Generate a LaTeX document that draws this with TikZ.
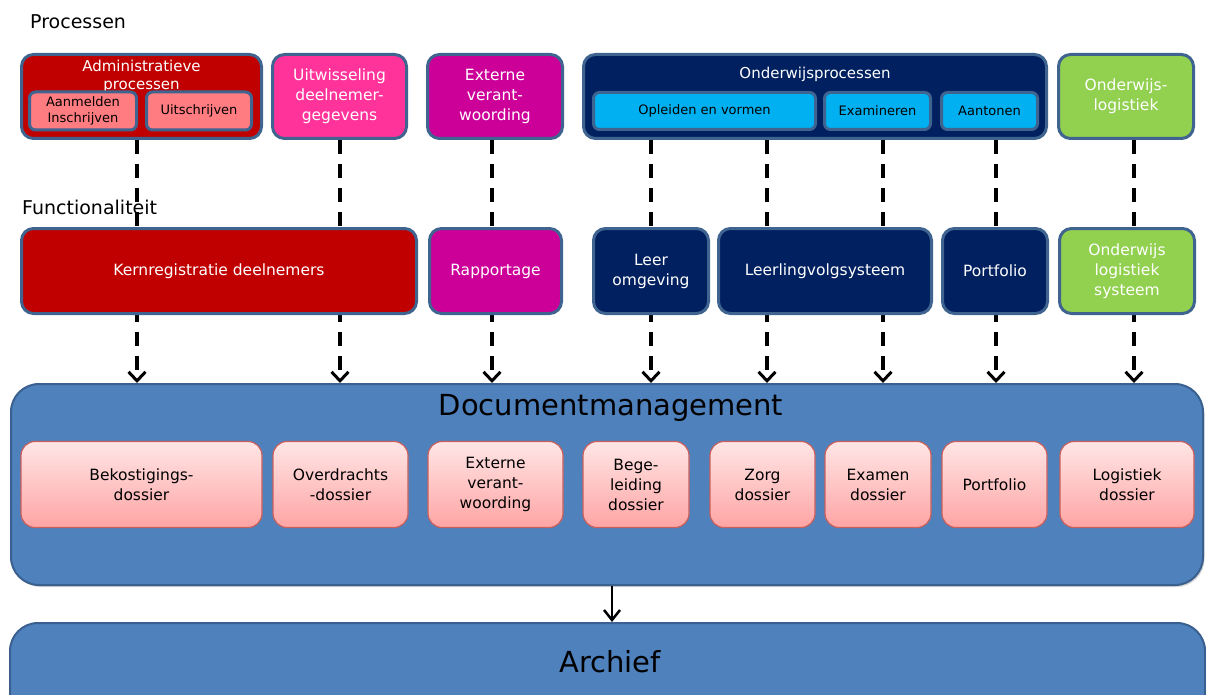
\documentclass[tikz,border=0pt]{standalone}
\usepackage{fontspec}
\setmainfont{DejaVu Sans}
\usetikzlibrary{arrows.meta,shadows}
\pgfdeclarelayer{bg}
\pgfsetlayers{bg,main}

\definecolor{frame}{HTML}{3F6490}
\definecolor{darkred}{HTML}{C00000}
\definecolor{salmon}{HTML}{FF7C80}
\definecolor{hotpink}{HTML}{FF3399}
\definecolor{magenta}{HTML}{CC0099}
\definecolor{navy}{HTML}{002060}
\definecolor{skyblue}{HTML}{00B0F0}
\definecolor{lgreen}{HTML}{92D050}
\definecolor{docblue}{HTML}{4F81BD}
\definecolor{docframe}{HTML}{3A6090}
\definecolor{pinktop}{HTML}{FFE6E6}
\definecolor{pinkbot}{HTML}{FFA4A4}
\definecolor{pinkframe}{HTML}{C9605C}

\begin{document}
\begin{tikzpicture}[x=1pt,y=-1pt,
  box/.style={draw=frame, line width=3pt, rounded corners=12pt, inner sep=0pt,
    align=center, text=white, font=\fontsize{15.5}{20}\selectfont},
  toprow/.style={box, minimum height=84pt},
  midrow/.style={box, minimum height=85pt},
  innerbox/.style={draw=frame, line width=3pt, rounded corners=6pt, inner sep=0pt,
    align=center, text=black, minimum height=38pt, font=\fontsize{13}{16}\selectfont},
  boxtitle/.style={align=center, text=white, inner sep=0pt, font=\fontsize{15}{18}\selectfont},
  heading/.style={anchor=west, inner sep=0pt, text=black, font=\fontsize{19}{23}\selectfont},
  dossier/.style={draw=pinkframe, line width=1.2pt, rounded corners=14pt, inner sep=0pt,
    top color=pinktop, bottom color=pinkbot, align=center, text=black,
    minimum height=86pt, font=\fontsize{15.5}{20}\selectfont},
  bigbox/.style={draw=docframe, line width=2pt, rounded corners=28pt, fill=docblue,
    drop shadow={shadow xshift=1.5pt, shadow yshift=-2pt, opacity=0.35}},
  bigtitle/.style={inner sep=0pt, text=black, font=\fontsize{29}{34}\selectfont},
  dashline/.style={draw=black, line width=3.5pt, dash pattern=on 14pt off 10pt,
    -{Straight Barb[length=9pt,width=17pt,line width=3pt]}},
  solidarrow/.style={draw=black, line width=2.5pt,
    -{Straight Barb[length=10pt,width=16pt,line width=2.5pt]}}
]
\useasboundingbox (0,0) rectangle (1206,695);
\clip (0,0) rectangle (1206,695);

% section headings
\node[heading] (hproc) at (30,22) {Processen};
\node[heading] (hfunc) at (22,207) {Functionaliteit};

% processes
\node[toprow, fill=darkred, minimum width=240pt] (adm) at (141.5,96.5) {};
\node[boxtitle] (admt) at (141.5,76) {Administratieve\\processen};
\node[innerbox, fill=salmon, minimum width=107pt] (aanm) at (83,111) {Aanmelden\\Inschrijven};
\node[innerbox, fill=salmon, minimum width=105pt] (uitschr) at (199,111) {Uitschrijven};

\node[toprow, fill=hotpink, minimum width=134pt] (uitw) at (339.5,96.5) {Uitwisseling\\deelnemer-\\gegevens};
\node[toprow, fill=magenta, minimum width=135pt] (ext) at (495,96.5) {Externe\\verant-\\woording};

\node[toprow, fill=navy, minimum width=463pt] (ondw) at (815,96.5) {};
\node[boxtitle] (ondwt) at (815,74) {Onderwijsprocessen};
\node[innerbox, fill=skyblue, minimum width=222pt, minimum height=37pt] (opl) at (704.5,111) {Opleiden en vormen};
\node[innerbox, fill=skyblue, minimum width=106pt, minimum height=37pt] (exam) at (877.5,111) {Examineren};
\node[innerbox, fill=skyblue, minimum width=96pt, minimum height=37pt] (aant) at (989.5,111) {Aantonen};

\node[toprow, fill=lgreen, minimum width=135pt] (logi) at (1126,96.5) {Onderwijs-\\logistiek};

% document management
\node[bigbox, minimum width=1192pt, minimum height=201pt] (doc) at (607,484.5) {};
\node[bigtitle] (doct) at (611,408) {Documentmanagement};
\node[dossier, minimum width=241pt] (bek) at (141.5,484.5) {Bekostigings-\\dossier};
\node[dossier, minimum width=135pt] (ovd) at (340.5,484.5) {Overdrachts\\-dossier};
\node[dossier, minimum width=135pt] (extv) at (495.5,484.5) {Externe\\verant-\\woording};
\node[dossier, minimum width=106pt] (bege) at (636,484.5) {Bege-\\leiding\\dossier};
\node[dossier, minimum width=105pt] (zorg) at (762.5,484.5) {Zorg\\dossier};
\node[dossier, minimum width=106pt] (exd) at (878,484.5) {Examen\\dossier};
\node[dossier, minimum width=105pt] (pfd) at (994.5,484.5) {Portfolio};
\node[dossier, minimum width=134pt] (logd) at (1127,484.5) {Logistiek\\dossier};

% archive
\node[bigbox, minimum width=1195pt, minimum height=134pt] (arch) at (607.5,690) {};
\node[bigtitle] (archt) at (610,662) {Archief};

% links from processes down to the document store
\begin{pgfonlayer}{bg}
\draw[dashline] (adm.south -| 137,0) -- (doc.north -| 137,0);
\draw[dashline] (uitw.south -| 340,0) -- (doc.north -| 340,0);
\draw[dashline] (ext.south -| 492,0) -- (doc.north -| 492,0);
\draw[dashline] (ondw.south -| 651,0) -- (doc.north -| 651,0);
\draw[dashline] (ondw.south -| 767,0) -- (doc.north -| 767,0);
\draw[dashline] (ondw.south -| 883,0) -- (doc.north -| 883,0);
\draw[dashline] (ondw.south -| 996,0) -- (doc.north -| 996,0);
\draw[dashline] (logi.south -| 1134,0) -- (doc.north -| 1134,0);
\end{pgfonlayer}

% functionality
\node[midrow, fill=darkred, minimum width=395pt] (kern) at (219,271) {Kernregistratie deelnemers};
\node[midrow, fill=magenta, minimum width=132pt] (rapp) at (495.5,271) {Rapportage};
\node[midrow, fill=navy, minimum width=115pt] (leer) at (651,271) {Leer\\omgeving};
\node[midrow, fill=navy, minimum width=213pt] (lvs) at (825,271) {Leerlingvolgsysteem};
\node[midrow, fill=navy, minimum width=105pt] (port) at (995,271) {Portfolio};
\node[midrow, fill=lgreen, minimum width=135pt] (olsys) at (1127,271) {Onderwijs\\logistiek\\systeem};

% archiving
\draw[solidarrow] (doc.south -| 612,0) -- (arch.north -| 612,0);
\end{tikzpicture}
\end{document}
